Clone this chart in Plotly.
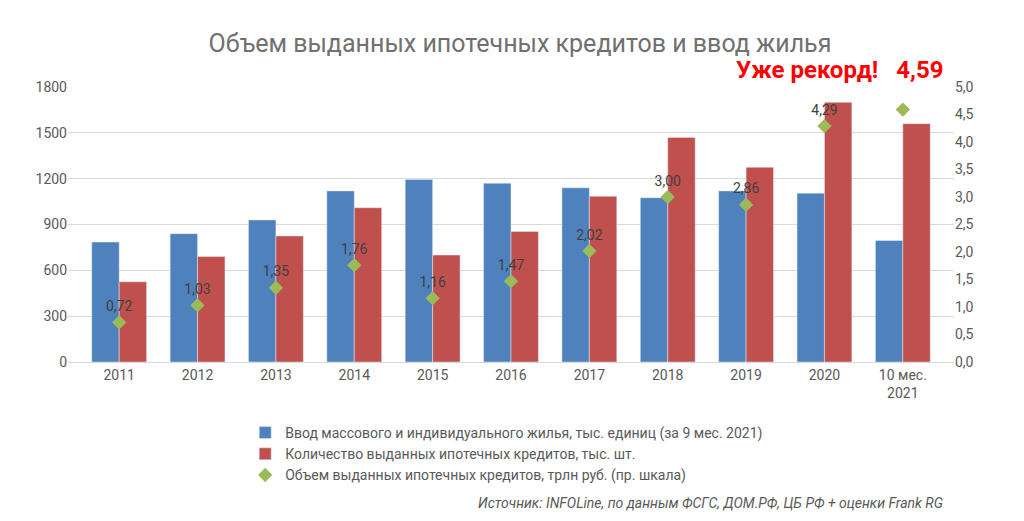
import plotly.graph_objects as go

years = ["2011", "2012", "2013", "2014", "2015", "2016", "2017", "2018", "2019", "2020", "10 мес.<br>2021"]
housing = [785, 840, 930, 1120, 1195, 1170, 1140, 1075, 1120, 1105, 795]
loans_count = [525, 690, 825, 1010, 700, 855, 1085, 1470, 1275, 1700, 1560]
loans_volume = [0.72, 1.03, 1.35, 1.76, 1.16, 1.47, 2.02, 3.00, 2.86, 4.29, 4.59]
volume_labels = [f"{v:.2f}".replace(".", ",") for v in loans_volume[:-1]] + [""]

left_ticks = [0, 300, 600, 900, 1200, 1500, 1800]
right_ticks = [i * 0.5 for i in range(11)]
right_labels = [f"{v:.1f}".replace(".", ",") for v in right_ticks]

fig = go.Figure()
fig.add_trace(go.Bar(x=years, y=housing, name="Ввод массового и индивидуального жилья, тыс. единиц (за 9 мес. 2021)",
                     marker_color="#4f81bd"))
fig.add_trace(go.Bar(x=years, y=loans_count, name="Количество выданных ипотечных кредитов, тыс. шт.",
                     marker_color="#c0504d"))
fig.add_trace(go.Scatter(x=years, y=loans_volume, yaxis="y2", mode="markers+text",
                         name="Объем выданных ипотечных кредитов, трлн руб. (пр. шкала)",
                         marker=dict(symbol="diamond", size=11, color="#9bbb59"),
                         text=volume_labels, textposition="top center",
                         textfont=dict(size=14, color="#404040")))

fig.update_layout(
    width=1024, height=521,
    font=dict(family="Roboto", color="#595959", size=14),
    title=dict(text="Объем выданных ипотечных кредитов и ввод жилья", x=0.5, y=0.95,
               font=dict(size=25, color="#707070")),
    plot_bgcolor="white", paper_bgcolor="white",
    barmode="group", bargap=0.3, bargroupgap=0,
    margin=dict(l=60, r=78, t=79, b=167),
    xaxis=dict(showline=True, linecolor="#d9d9d9", tickfont=dict(size=14)),
    yaxis=dict(range=[0, 1800], tickvals=left_ticks, gridcolor="#d9d9d9", zeroline=False),
    yaxis2=dict(range=[0, 5], tickvals=right_ticks, ticktext=right_labels, overlaying="y",
                side="right", showgrid=False, zeroline=False),
    legend=dict(x=0.2, y=-0.2, xanchor="left", yanchor="top",
                font=dict(size=14, family="Roboto"),
                tracegroupgap=0, itemwidth=30),
    showlegend=True,
)
fig.add_annotation(text="<b>Уже рекорд!   4,59</b>", xref="paper", yref="paper", x=0.99, y=1.12,
                   xanchor="right", showarrow=False,
                   font=dict(size=24, color="#ff0000", family="Roboto"))
fig.add_annotation(text="<i>Источник: INFOLine, по данным ФСГС, ДОМ.РФ, ЦБ РФ + оценки Frank RG</i>",
                   xref="paper", yref="paper", x=0.99, y=-0.55, xanchor="right", showarrow=False,
                   font=dict(size=14, color="#595959", family="Roboto"))
fig.write_html("out.html")
